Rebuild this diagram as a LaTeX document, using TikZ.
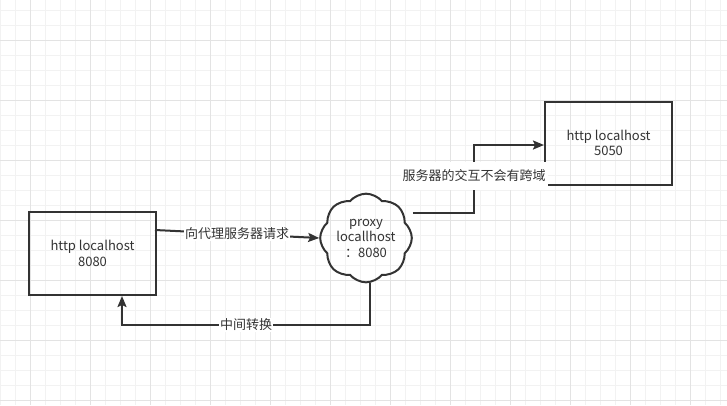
\documentclass[tikz,border=0pt]{standalone}
\usepackage{fontspec}
\setmainfont{Noto Sans CJK SC}
\usepackage{tikz}
\usetikzlibrary{arrows.meta,shapes.symbols,positioning}
\definecolor{GridMinor}{HTML}{F2F2F2}
\definecolor{GridMajor}{HTML}{E3E3E3}
\definecolor{LineDark}{HTML}{333333}

\begin{document}
\begin{tikzpicture}[x=1pt, y=-1pt, font=\fontsize{13}{15.5}\selectfont, text=LineDark,
  server/.style={draw=LineDark, line width=2pt, minimum width=127pt, minimum height=83pt, align=center},
  link/.style={draw=LineDark, line width=2pt, -{Stealth[length=11pt, width=9pt, inset=2pt]}},
  tag/.style={fill=white, inner sep=1pt}]
\useasboundingbox (0,0) rectangle (727,405);
\fill[white] (0,0) rectangle (727,405);

% grid
\foreach \gx in {0,15,...,727} \draw[GridMinor, line width=1pt] (\gx,0) -- (\gx,405);
\foreach \gy in {10,25,...,405} \draw[GridMinor, line width=1pt] (0,\gy) -- (727,\gy);
\foreach \gx in {30,90,...,727} \draw[GridMajor, line width=1pt] (\gx,0) -- (\gx,405);
\foreach \gy in {40,100,...,405} \draw[GridMajor, line width=1pt] (0,\gy) -- (727,\gy);

\node[server] (client) at (92.5,253.5) {http localhost\\8080};
\node[server] (target) at (608.5,143) {http localhost\\5050};
\node[cloud, cloud puffs=8, cloud puff arc=100, aspect=1.05, draw=LineDark, line width=2pt,
  minimum width=82pt, minimum height=76pt, inner sep=0pt, align=center] (proxy) at (366,238)
  {proxy\\locallhost\\：8080};

\coordinate (reqstart) at (155,230);
\draw[link] (reqstart) -- node[tag] {向代理服务器请求} (proxy.west);

\coordinate (bendA) at (474,213);
\coordinate (bendB) at (474,145);
\draw[link] (proxy.east |- bendA) -- (bendA) -- node[tag, pos=0.55, inner ysep=8pt, inner xsep=2pt] {服务器的交互不会有跨域} (bendB) -- (target.west |- bendB);

\coordinate (backA) at (370,325);
\coordinate (backB) at (122,325);
\draw[link] (proxy.south -| backA) -- (backA) -- node[tag] {中间转换} (backB) -- (client.south -| backB);

\end{tikzpicture}
\end{document}
